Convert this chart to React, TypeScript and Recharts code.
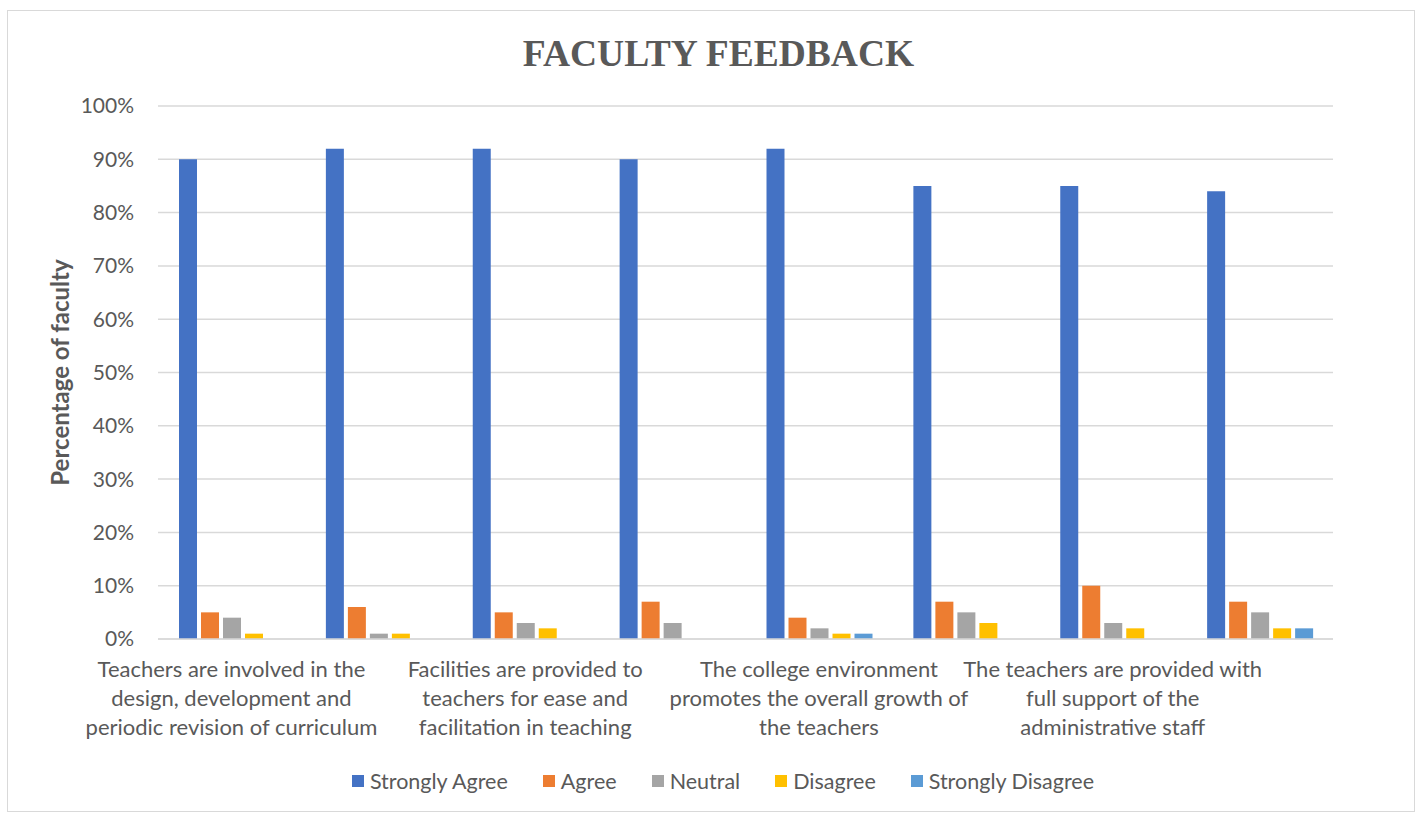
import React from 'react';
import { BarChart, Bar, XAxis, YAxis, CartesianGrid } from 'recharts';

// Faculty feedback survey, grouped columns in the Office palette.
const categories = ['Q1', 'Q2', 'Q3', 'Q4', 'Q5', 'Q6', 'Q7', 'Q8'];
const tickLabels: (string[] | null)[] = [
  ['Teachers are involved in the', 'design, development and', 'periodic revision of curriculum'],
  null,
  ['Facilities are provided to', 'teachers for ease and', 'facilitation in teaching'],
  null,
  ['The college environment', 'promotes the overall growth of', 'the teachers'],
  null,
  ['The teachers are provided with', 'full support of the', 'administrative staff'],
  null,
];
const stronglyAgree = [90, 92, 92, 90, 92, 85, 85, 84];
const agree = [5, 6, 5, 7, 4, 7, 10, 7];
const neutral = [4, 1, 3, 3, 2, 5, 3, 5];
const disagree = [1, 1, 2, 0, 1, 3, 2, 2];
const stronglyDisagree = [0, 0, 0, 0, 1, 0, 0, 2];
const yTicks = [0, 10, 20, 30, 40, 50, 60, 70, 80, 90, 100];

const series = [
  { key: 'stronglyAgree', name: 'Strongly Agree', color: '#4472C4' },
  { key: 'agree', name: 'Agree', color: '#ED7D31' },
  { key: 'neutral', name: 'Neutral', color: '#A5A5A5' },
  { key: 'disagree', name: 'Disagree', color: '#FFC000' },
  { key: 'stronglyDisagree', name: 'Strongly Disagree', color: '#5B9BD5' },
];

const data = categories.map((c, i) => ({
  name: c,
  stronglyAgree: stronglyAgree[i],
  agree: agree[i],
  neutral: neutral[i],
  disagree: disagree[i],
  stronglyDisagree: stronglyDisagree[i],
}));

const TEXT = '#595959';
const FONT = 'Lato, "Open Sans", sans-serif';

function CategoryTick(props: any) {
  const { x, y, index } = props;
  const lines = tickLabels[index];
  if (!lines) return null;
  return (
    <g transform={`translate(${x},${y})`}>
      {lines.map((l, i) => (
        <text key={i} x={0} y={30 + i * 29} textAnchor="middle" fill={TEXT} fontSize={22} fontFamily={FONT}>
          {l}
        </text>
      ))}
    </g>
  );
}

export default function App() {
  return (
    <div style={{ position: 'absolute', left: 7, top: 10, width: 1408, height: 802, border: '1px solid #d9d9d9', background: '#fff', boxSizing: 'border-box' }}>
      <div style={{ position: 'absolute', left: 15, right: 0, top: 21, textAlign: 'center', fontFamily: '"Liberation Serif", "Times New Roman", serif', fontWeight: 'bold', fontSize: 37.5, color: TEXT }}>
        FACULTY FEEDBACK
      </div>
      <BarChart
        width={1406}
        height={800}
        data={data}
        margin={{ top: 95, right: 81, bottom: 0, left: 0 }}
        barCategoryGap={21}
        barGap={4}
      >
        <CartesianGrid stroke="#d9d9d9" strokeWidth={1.5} vertical={false} />
        <XAxis dataKey="name" interval={0} tick={<CategoryTick />} tickLine={false} axisLine={{ stroke: '#d9d9d9', strokeWidth: 1.5 }} height={172} />
        <YAxis
          domain={[0, 100]}
          ticks={yTicks}
          tickFormatter={(v: number) => `${v}%`}
          tick={{ fontSize: 21, fill: TEXT, fontFamily: FONT }}
          tickLine={false}
          tickSize={0}
          tickMargin={24}
          axisLine={false}
          width={150}
          label={{ value: 'Percentage of faculty', angle: -90, position: 'insideLeft', offset: 52, fill: TEXT, fontSize: 24, fontWeight: 'bold', fontFamily: FONT, style: { textAnchor: 'middle' } }}
        />
        {series.map(s => (
          <Bar key={s.key} dataKey={s.key} name={s.name} fill={s.color} isAnimationActive={false} />
        ))}
      </BarChart>
      <div style={{ position: 'absolute', left: 24, right: 0, top: 757, display: 'flex', justifyContent: 'center', gap: 35, fontFamily: FONT, fontSize: 21.5, color: TEXT }}>
        {series.map(s => (
          <div key={s.key} style={{ display: 'flex', alignItems: 'center', gap: 6 }}>
            <span style={{ display: 'inline-block', width: 12, height: 12, background: s.color }} />
            <span>{s.name}</span>
          </div>
        ))}
      </div>
    </div>
  );
}
